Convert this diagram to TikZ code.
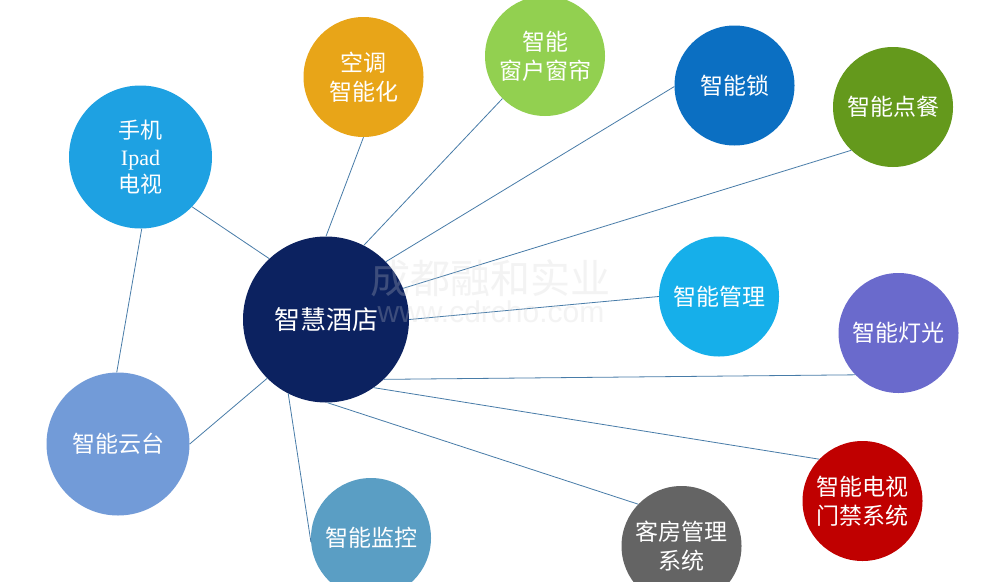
\documentclass[tikz,border=0pt]{standalone}
\usepackage{fontspec}
\setmainfont{Noto Sans CJK SC}
\newfontfamily\latinserif{Liberation Serif}
\newfontfamily\wmlatin{Liberation Sans}
\definecolor{hubc}{RGB}{12,34,96}
\definecolor{handc}{RGB}{30,161,226}
\definecolor{acc}{RGB}{232,165,24}
\definecolor{curtc}{RGB}{146,208,80}
\definecolor{lockc}{RGB}{11,111,194}
\definecolor{foodc}{RGB}{100,153,28}
\definecolor{mgmtc}{RGB}{22,175,234}
\definecolor{lightc}{RGB}{106,106,204}
\definecolor{tvc}{RGB}{192,0,0}
\definecolor{roomc}{RGB}{100,100,100}
\definecolor{camc}{RGB}{90,158,196}
\definecolor{cloudc}{RGB}{114,155,216}
\definecolor{linkc}{RGB}{72,124,168}
\begin{document}
\begin{tikzpicture}[x=1pt,y=-1pt,
  bub/.style={circle, inner sep=0pt, minimum size=120pt, text=white, align=center,
    font=\fontsize{23}{29}\selectfont},
  bigbub/.style={bub, minimum size=143pt, font=\fontsize{22}{27}\selectfont},
  link/.style={draw=linkc, line width=0.8pt},
  wm/.style={text=black!18, opacity=0.25, inner sep=0pt}]
\fill[white] (0,0) rectangle (981,581);
\useasboundingbox (0,0) rectangle (981,581);
% nodes
\node[bub, fill=hubc, minimum size=166pt, font=\fontsize{26}{30}\selectfont] (hub) at (326,319.5) {智慧酒店};
\node[bigbub, fill=handc] (hand) at (140.5,157) {手机\\{\latinserif Ipad}\\电视};
\node[bub, fill=acc] (ac) at (363.5,77) {空调\\智能化};
\node[bub, fill=curtc] (curt) at (545,56) {智能\\窗户窗帘};
\node[bub, fill=lockc] (lock) at (734.5,85.5) {智能锁};
\node[bub, fill=foodc] (food) at (893,107) {智能点餐};
\node[bub, fill=mgmtc] (mgmt) at (719,296.5) {智能管理};
\node[bub, fill=lightc] (light) at (898.5,333) {智能灯光};
\node[bub, fill=tvc] (tv) at (862.5,501) {智能电视\\门禁系统};
\node[bub, fill=roomc] (room) at (681.5,546) {客房管理\\系统};
\node[bub, fill=camc] (cam) at (371,538) {智能监控};
\node[bigbub, fill=cloudc, font=\fontsize{23}{29}\selectfont] (cloud) at (118,444) {智能云台};
% connectors
\draw[link] (hub.133) -- (hand.-44);
\draw[link] (hand.-89) -- (cloud.91);
\draw[link] (hub.90) -- (ac.-90);
\draw[link] (hub.63) -- (curt.225);
\draw[link] (hub.44) -- (lock.181);
\draw[link] (hub.22) -- (food.226);
\draw[link] (hub.0) -- (mgmt.180);
\draw[link] (hub.-46) -- (light.224);
\draw[link] (hub.-55.5) -- (tv.136);
\draw[link] (hub.-89) -- (room.136);
\draw[link] (hub.-117) -- (cam.184);
\draw[link] (hub.225) -- (cloud.0);
% watermark
\node[wm, font=\fontsize{40}{40}\selectfont] (wmcn) at (490,278) {成都融和实业};
\node[wm, font=\wmlatin\fontsize{30}{30}\selectfont] (wmurl) at (491,312) {www.cdrcho.com};
\end{tikzpicture}
\end{document}
